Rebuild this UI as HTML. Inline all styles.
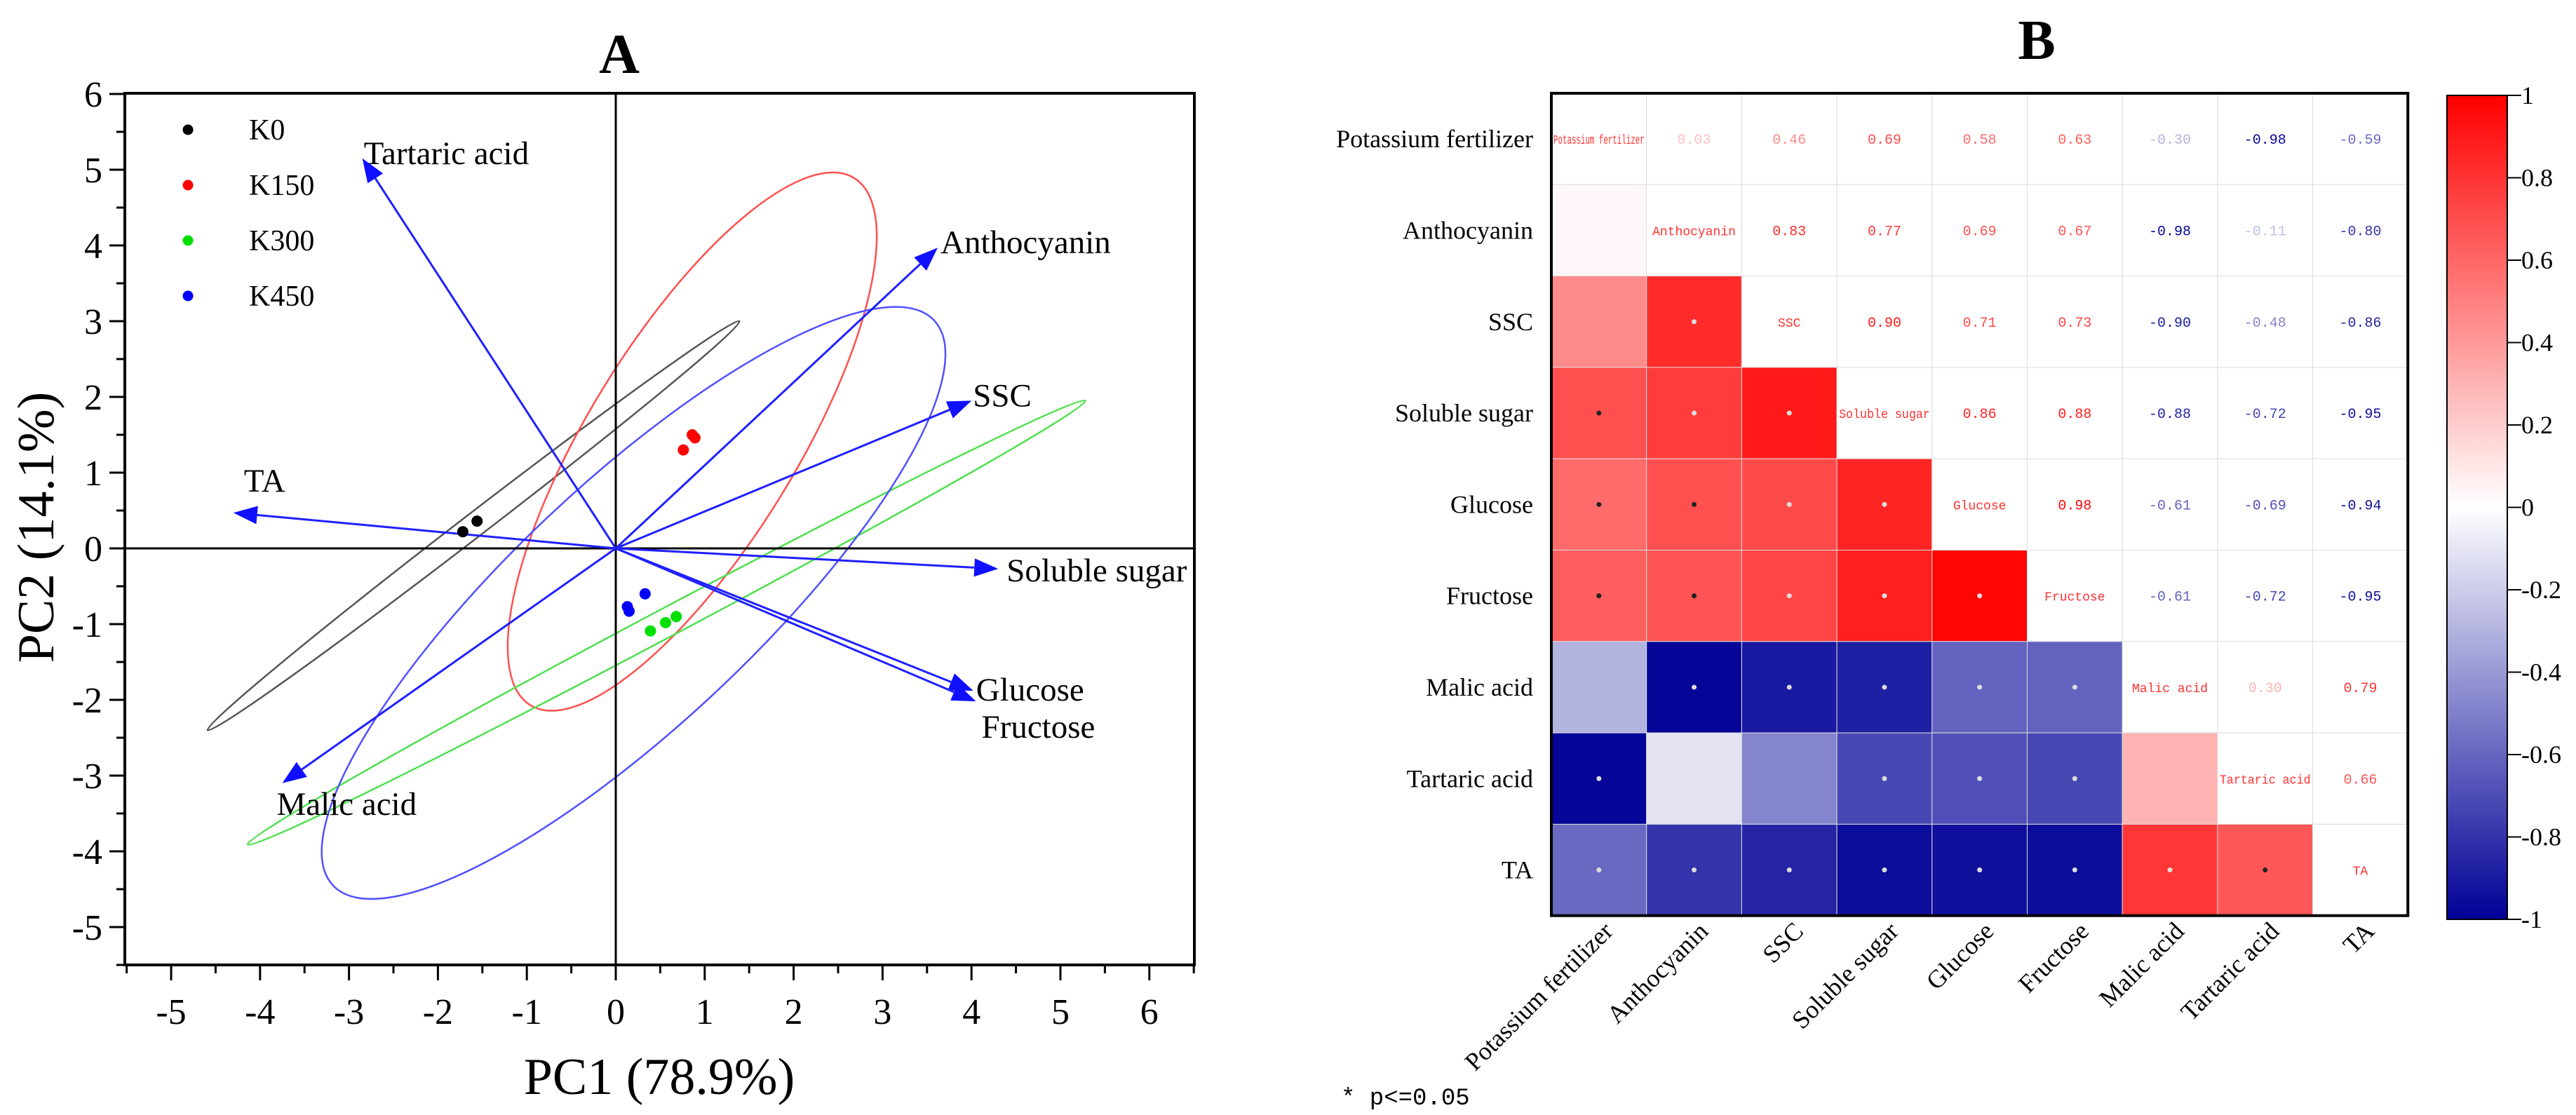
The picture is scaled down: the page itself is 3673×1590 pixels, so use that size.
<!DOCTYPE html>
<html><head><meta charset="utf-8"><style>
html,body{margin:0;padding:0;background:#fff;}
svg{display:block;font-family:"Liberation Serif",serif;}
</style></head><body>
<svg id="fig" width="3673" height="1590" viewBox="0 0 3673 1590" xmlns="http://www.w3.org/2000/svg">
<rect width="3673" height="1590" fill="#fff"/>
<g id="pa"></g>
<g id="pb"></g>
</svg>
<script>
// ---------- Panel A data ----------
const xTicks = [-5,-4,-3,-2,-1,0,1,2,3,4,5,6];
const yTicks = [-5,-4,-3,-2,-1,0,1,2,3,4,5,6];
const groups = ["K0","K150","K300","K450"];
const groupColors = ["#000000","#ff0000","#00e000","#0000ff"];
const ptsK0 = [[-1.72,0.22],[-1.56,0.36]];
const ptsK150 = [[0.76,1.3],[0.86,1.5],[0.89,1.46]];
const ptsK300 = [[0.39,-1.09],[0.56,-0.98],[0.68,-0.9]];
const ptsK450 = [[0.13,-0.77],[0.15,-0.83],[0.33,-0.6]];
const loadNames = ["Tartaric acid","Anthocyanin","SSC","TA","Soluble sugar","Glucose","Fructose","Malic acid"];
const loadX = [-2.85,3.62,4.0,-4.3,4.3,4.02,4.05,-3.75];
const loadY = [5.15,3.97,1.95,0.47,-0.27,-1.88,-2.02,-3.1];
const ellCenter = [[-1.6,0.3],[0.86,1.41],[0.57,-0.98],[0.2,-0.72]];
const ellTip = [[1.39,3.0],[2.68,4.89],[5.28,1.95],[3.58,3.01]];
const ellRatio = [0.035,0.336,0.03,0.294];

// ---------- Panel B data ----------
const vars = ["Potassium fertilizer","Anthocyanin","SSC","Soluble sugar","Glucose","Fructose","Malic acid","Tartaric acid","TA"];
const corr = [
 [1,0.03,0.46,0.69,0.58,0.63,-0.30,-0.98,-0.59],
 [0.03,1,0.83,0.77,0.69,0.67,-0.98,-0.11,-0.80],
 [0.46,0.83,1,0.90,0.71,0.73,-0.90,-0.48,-0.86],
 [0.69,0.77,0.90,1,0.86,0.88,-0.88,-0.72,-0.95],
 [0.58,0.69,0.71,0.86,1,0.98,-0.61,-0.69,-0.94],
 [0.63,0.67,0.73,0.88,0.98,1,-0.61,-0.72,-0.95],
 [-0.30,-0.98,-0.90,-0.88,-0.61,-0.61,1,0.30,0.79],
 [-0.98,-0.11,-0.48,-0.72,-0.69,-0.72,0.30,1,0.66],
 [-0.59,-0.80,-0.86,-0.95,-0.94,-0.95,0.79,0.66,1]];
const cbTicks = [1,0.8,0.6,0.4,0.2,0,-0.2,-0.4,-0.6,-0.8,-1];
const cbTickLabels = ["1","0.8","0.6","0.4","0.2","0","-0.2","-0.4","-0.6","-0.8","-1"];

const NS="http://www.w3.org/2000/svg";
function mk(parent, tag, attrs, text){
  const e=document.createElementNS(NS,tag);
  for(const k in attrs) e.setAttribute(k,attrs[k]);
  if(text!==undefined) e.textContent=text;
  parent.appendChild(e); return e;
}

// ---------- Panel A ----------
const pa=document.getElementById('pa');
const L=178,R=1703,T=133,B=1376;
const X=v=>878+v*126.8, Y=v=>782-v*108;
let e;
e=mk(pa,'text',{x:883,y:104,'text-anchor':'middle','font-size':80,'font-weight':'bold'},'A');


for(let i=0;i<ellCenter.length;i++){
  const cx=X(ellCenter[i][0]), cy=Y(ellCenter[i][1]);
  const tx=X(ellTip[i][0]), ty=Y(ellTip[i][1]);
  const a=Math.hypot(tx-cx,ty-cy), ang=Math.atan2(ty-cy,tx-cx)*180/Math.PI;
  e=mk(pa,'ellipse',{cx:cx,cy:cy,rx:a,ry:a*ellRatio[i],transform:`rotate(${ang} ${cx} ${cy})`,fill:'none',stroke:['#555','#ff5050','#50e050','#5050ff'][i],'stroke-width':2.5});
  
  
}
e=mk(pa,'line',{x1:L,x2:R,y1:Y(0),y2:Y(0),stroke:'#000','stroke-width':3});


e=mk(pa,'line',{x1:X(0),x2:X(0),y1:T,y2:B,stroke:'#000','stroke-width':3});


for(let i=0;i<loadNames.length;i++){
  const x0=X(0),y0=Y(0),x1=X(loadX[i]),y1=Y(loadY[i]);
  const ang=Math.atan2(y1-y0,x1-x0), hl=34, hw=13;
  const bx=x1-hl*Math.cos(ang), by=y1-hl*Math.sin(ang);
  const g=mk(pa,'g',{});
  
  
  mk(g,'line',{x1:x0,y1:y0,x2:bx,y2:by,stroke:'#2020ff','stroke-width':3});
  mk(g,'polygon',{points:`${x1},${y1} ${bx+hw*Math.sin(ang)},${by-hw*Math.cos(ang)} ${bx-hw*Math.sin(ang)},${by+hw*Math.cos(ang)}`,fill:'#1010ff'});
}
const labOff=[[2,8],[4,8],[2,8],[15,-30],[12,18],[4,14],[8,52],[-8,45]];
for(let i=0;i<loadNames.length;i++){
  e=mk(pa,'text',{x:X(loadX[i])+labOff[i][0],y:Y(loadY[i])+labOff[i][1],'font-size':47},loadNames[i]);
  
  
}
const allPts=[ptsK0,ptsK150,ptsK300,ptsK450];
allPts.forEach((arr,gi)=>arr.forEach(p=>{
  e=mk(pa,'circle',{cx:X(p[0]),cy:Y(p[1]),r:8,fill:groupColors[gi]});
  
  
}));
groups.forEach((gname,i)=>{
  const g=mk(pa,'g',{});
  
  
  mk(g,'circle',{cx:268,cy:185+i*79,r:7.5,fill:groupColors[i]});
  mk(g,'text',{x:355,y:199+i*79,'font-size':42},gname);
});
e=mk(pa,'rect',{x:L,y:T,width:R-L,height:B-T,fill:'none',stroke:'#000','stroke-width':4});


xTicks.forEach(v=>{
  mk(pa,'line',{x1:X(v),x2:X(v),y1:B,y2:B+22,stroke:'#000','stroke-width':3});
  mk(pa,'line',{x1:X(v+0.5),x2:X(v+0.5),y1:B,y2:B+12,stroke:'#000','stroke-width':3});
  e=mk(pa,'text',{x:X(v),y:1460,'text-anchor':'middle','font-size':52},String(v));
  
  
});
mk(pa,'line',{x1:X(-5.5),x2:X(-5.5),y1:B,y2:B+12,stroke:'#000','stroke-width':3});
yTicks.forEach(v=>{
  mk(pa,'line',{x1:L-22,x2:L,y1:Y(v),y2:Y(v),stroke:'#000','stroke-width':3});
  if(v<6) mk(pa,'line',{x1:L-12,x2:L,y1:Y(v+0.5),y2:Y(v+0.5),stroke:'#000','stroke-width':3});
  e=mk(pa,'text',{x:146,y:Y(v)+18,'text-anchor':'end','font-size':52},String(v));
  
  
});
mk(pa,'line',{x1:L-12,x2:L,y1:Y(-5.5),y2:Y(-5.5),stroke:'#000','stroke-width':3});
e=mk(pa,'text',{x:940,y:1560,'text-anchor':'middle','font-size':74},'PC1 (78.9%)');


e=mk(pa,'text',{x:0,y:0,'text-anchor':'middle','font-size':74,transform:'translate(76 752) rotate(-90)'},'PC2 (14.1%)');



// ---------- Panel B ----------
const pb=document.getElementById('pb');
const GL=2212,GT=133,CW=135.7,CH=130.3,N=vars.length;
const CX=j=>GL+j*CW, CY=i=>GT+i*CH;
function col(v){
  const t=Math.min(1,Math.abs(v));
  if(v>=0){const c=Math.round(255*(1-t));return `rgb(255,${c},${c})`;}
  const c=Math.round(255*(1-t)); const b=Math.round(255-(255-150)*t);
  return `rgb(${c},${c},${b})`;
}
e=mk(pb,'text',{x:2904,y:84,'text-anchor':'middle','font-size':80,'font-weight':'bold'},'B');


for(let i=0;i<N;i++)for(let j=0;j<N;j++){
  const v=corr[i][j];
  if(j<i){
    e=mk(pb,'rect',{x:CX(j),y:CY(i),width:CW,height:CH,fill:col(v),stroke:'#ddd','stroke-width':1});
    
    
    if(Math.abs(v)>=0.55){
      const dark=(v>0&&v<0.70);
      e=mk(pb,'circle',{cx:CX(j)+CW/2,cy:CY(i)+CH/2,r:3.5,fill:dark?'#222':'#ddd'});
      
      
    }
  } else {
    e=mk(pb,'rect',{x:CX(j),y:CY(i),width:CW,height:CH,fill:'#fff',stroke:'#ddd','stroke-width':1});
    
    
    const txt = i===j ? vars[i] : v.toFixed(2);
    const fill = i===j ? '#ff3030' : col(v>0?Math.max(v,0.25):Math.min(v,-0.25));
    e=mk(pb,'text',{x:CX(j)+CW/2,y:CY(i)+CH/2+7,'text-anchor':'middle','font-size':i===j?18:20,'font-family':'Liberation Mono,monospace',fill:fill});
    if(i===j && txt.length*18*0.6>CW-6){
      e.setAttribute('textLength',CW-6);
      e.setAttribute('lengthAdjust','spacingAndGlyphs');
    }
    e.textContent=txt;
    
    
  }
}
e=mk(pb,'rect',{x:GL,y:GT,width:CW*N,height:CH*N,fill:'none',stroke:'#000','stroke-width':4});


vars.forEach((name,i)=>{
  e=mk(pb,'text',{x:2186,y:CY(i)+CH/2+12,'text-anchor':'end','font-size':36},name);
  
  
  const cx=CX(i)+CW/2+22, cy=1330;
  e=mk(pb,'text',{x:cx,y:cy,'text-anchor':'end','font-size':36,transform:`rotate(-45 ${cx} ${cy})`},name);
  
  
});
const CBL=3489,CBW=86,CBT=136,CBB=1311;
const CBY=v=>CBT+(1-v)/2*(CBB-CBT);
const defs=mk(pb,'defs',{});
const grad=mk(defs,'linearGradient',{id:'cbg',x1:0,y1:0,x2:0,y2:1});
for(let k=0;k<=20;k++){const v=1-k/10; mk(grad,'stop',{offset:(k/20),'stop-color':col(v)});}
e=mk(pb,'rect',{x:CBL,y:CBT,width:CBW,height:CBB-CBT,fill:'url(#cbg)',stroke:'#000','stroke-width':2});


cbTicks.forEach((v,k)=>{
  mk(pb,'line',{x1:CBL+CBW,x2:CBL+CBW+20,y1:CBY(v),y2:CBY(v),stroke:'#000','stroke-width':2});
  e=mk(pb,'text',{x:3595,y:CBY(v)+12,'font-size':36},cbTickLabels[k]);
  
  
});
e=mk(pb,'text',{x:1912,y:1575,'font-size':34,'font-family':'Liberation Mono,monospace'},'* p<=0.05');


</script>
</body></html>
